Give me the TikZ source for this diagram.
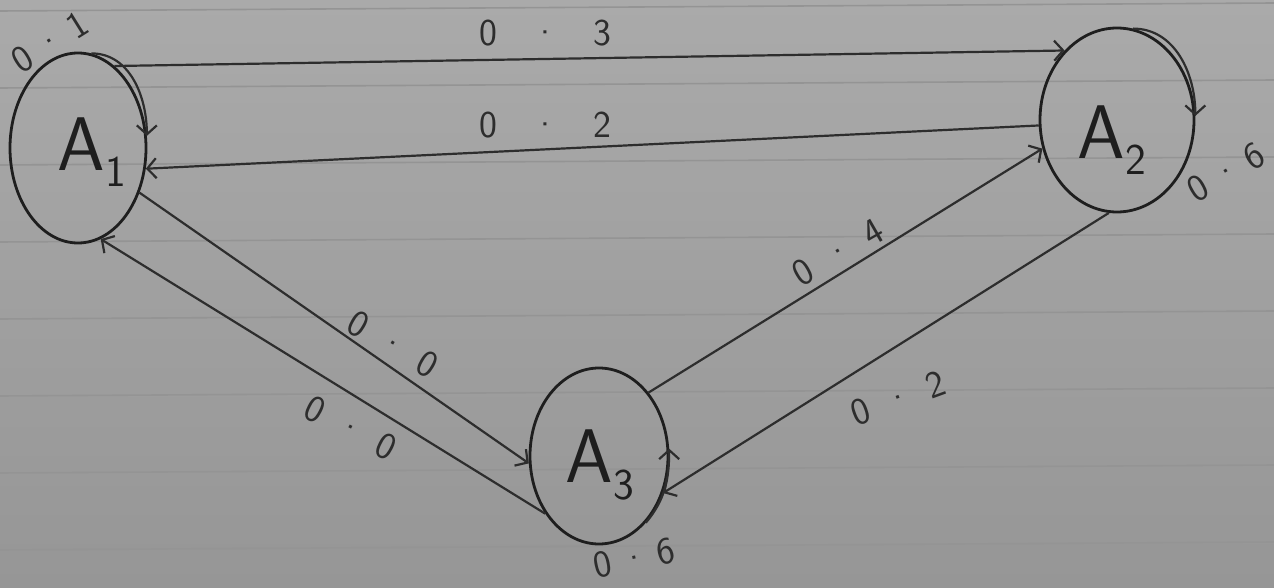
\documentclass[tikz,border=0pt]{standalone}
\usetikzlibrary{shapes.geometric,arrows.meta}
\definecolor{paper}{RGB}{170,170,170}
\definecolor{paperdark}{RGB}{150,150,150}
\definecolor{ruleink}{RGB}{148,148,148}
\definecolor{nodeink}{RGB}{30,30,30}
\definecolor{edgeink}{RGB}{45,45,45}
\newcommand{\mysub}[1]{\raisebox{-0.22em}{\fontsize{44}{44}\selectfont #1}}
\newcommand{\dotsep}[2]{#1\hspace{0.45em}\textperiodcentered\hspace{0.45em}#2}
\newcommand{\tightsep}[2]{#1\hspace{0.25em}\textperiodcentered\hspace{0.25em}#2}
\newcommand{\widesep}[2]{#1\hspace{0.9em}\textperiodcentered\hspace{0.9em}#2}
\begin{document}
\begin{tikzpicture}[x=1pt,y=-1pt,
  state/.style={draw=nodeink, line width=2.8pt, ellipse, inner sep=0pt},
  statetext/.style={text=nodeink, inner sep=0pt, font=\fontsize{76}{76}\selectfont\sffamily},
  edge/.style={draw=edgeink, line width=2.2pt, -{Straight Barb[length=9pt,width=20pt]}},
  lbl/.style={text=edgeink, inner sep=0pt, font=\fontsize{38}{38}\selectfont\sffamily}]
\shade[top color=paper, bottom color=paperdark] (0,0) rectangle (1274,588);
\useasboundingbox (0,0) rectangle (1274,588);
\foreach \y in {11,88,165,242,319,396,473,550}
  \draw[ruleink, line width=1.6pt] (0,\y) -- (1274,\y-8);

% states
\node[state, minimum width=136pt, minimum height=190pt] (a1) at (78,148) {};
\node[state, minimum width=154pt, minimum height=184pt] (a2) at (1117,120) {};
\node[state, minimum width=138pt, minimum height=176pt] (a3) at (599,456) {};
\node[statetext] (t1) at (92,152) {A\mysub{1}};
\node[statetext] (t2) at (1112,140) {A\mysub{2}};
\node[statetext] (t3) at (600,465) {A\mysub{3}};

% transitions
\draw[edge] (a1.66) -- (a2.127);
\draw[edge] (a2.184) -- (a1.-17);
\draw[edge] (a1.-36) -- (a3.186);
\draw[edge] (a3.227) -- (a1.-76);
\draw[edge] (a3.52) -- (a2.201);
\draw[edge] (a2.265) -- (a3.-30);

% self loops
\draw[edge] (a1.82) to[out=0,in=90] (a1.10);
\draw[edge] (a2.80) to[out=0,in=90] (a2.3);
\draw[edge] (a3.-55) to[out=50,in=-90] (a3.6);

% labels
\node[lbl] (l13) at (545,33) {\widesep{0}{3}};
\node[lbl] (l21) at (545,125) {\widesep{0}{2}};
\node[lbl, rotate=32] (l11) at (50,42) {\tightsep{0}{1}};
\node[lbl, rotate=30] (l22) at (1226,172) {\tightsep{0}{6}};
\node[lbl, rotate=12] (l33) at (634,558) {\tightsep{0}{6}};
\node[lbl, rotate=-30] (l13b) at (393,344) {\dotsep{0}{0}};
\node[lbl, rotate=-27] (l31) at (351,428) {\dotsep{0}{0}};
\node[lbl, rotate=30] (l32) at (838,252) {\dotsep{0}{4}};
\node[lbl, rotate=20] (l23) at (898,398) {\dotsep{0}{2}};
\end{tikzpicture}
\end{document}
